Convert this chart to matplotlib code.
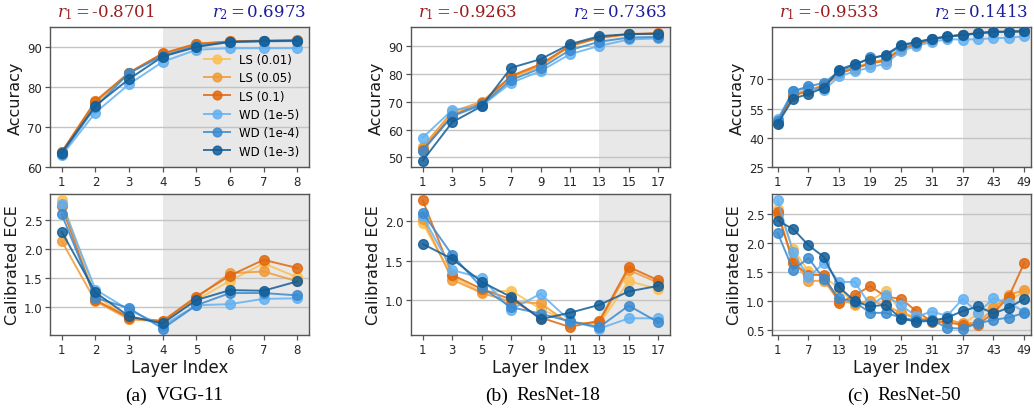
import matplotlib
matplotlib.use("Agg")
import matplotlib.pyplot as plt
from matplotlib.transforms import offset_copy

# ---------------- data ----------------
series_names = ["LS (0.01)", "LS (0.05)", "LS (0.1)", "WD (1e-5)", "WD (1e-4)", "WD (1e-3)"]
series_colors = ["#fdbf4f", "#f19a36", "#e0680f", "#62b1f3", "#3a8ad0", "#135e98"]

# (a) VGG-11
layers_a = [1, 2, 3, 4, 5, 6, 7, 8]
acc_a_ls001 = [63.6, 76.0, 83.4, 88.2, 90.7, 91.3, 91.5, 91.6]
acc_a_ls005 = [63.7, 76.2, 83.5, 88.3, 90.8, 91.4, 91.5, 91.6]
acc_a_ls01 = [63.8, 76.5, 83.6, 88.4, 90.8, 91.4, 91.6, 91.7]
acc_a_wd1e5 = [62.9, 73.6, 80.7, 86.3, 89.3, 89.7, 89.7, 89.7]
acc_a_wd1e4 = [63.3, 75.0, 83.5, 87.8, 90.3, 91.2, 91.4, 91.5]
acc_a_wd1e3 = [63.6, 75.3, 82.0, 87.6, 90.0, 91.3, 91.5, 91.6]
ece_a_ls001 = [2.83, 1.20, 0.80, 0.76, 1.12, 1.45, 1.75, 1.51]
ece_a_ls005 = [2.13, 1.10, 0.79, 0.75, 1.16, 1.58, 1.61, 1.44]
ece_a_ls01 = [2.73, 1.12, 0.82, 0.76, 1.18, 1.54, 1.81, 1.67]
ece_a_wd1e5 = [2.77, 1.30, 0.95, 0.68, 1.03, 1.05, 1.14, 1.15]
ece_a_wd1e4 = [2.59, 1.16, 0.98, 0.63, 1.03, 1.24, 1.24, 1.20]
ece_a_wd1e3 = [2.29, 1.25, 0.84, 0.72, 1.12, 1.29, 1.28, 1.44]

# (b) ResNet-18
layers_b = [1, 3, 5, 7, 9, 11, 13, 15, 17]
acc_b_ls001 = [53.5, 66.0, 69.2, 78.5, 82.7, 90.0, 93.0, 94.3, 94.5]
acc_b_ls005 = [53.8, 66.4, 70.0, 79.0, 83.0, 90.0, 93.0, 94.3, 94.5]
acc_b_ls01 = [52.8, 65.0, 69.5, 79.3, 83.5, 90.2, 93.1, 94.4, 94.6]
acc_b_wd1e5 = [57.1, 67.0, 68.5, 76.8, 81.0, 87.1, 90.1, 92.4, 92.8]
acc_b_wd1e4 = [52.4, 64.8, 68.8, 77.8, 82.0, 88.6, 91.6, 93.1, 93.3]
acc_b_wd1e3 = [48.8, 62.6, 68.4, 82.2, 85.3, 90.7, 93.6, 94.3, 94.5]
ece_b_ls001 = [1.97, 1.30, 1.10, 1.12, 0.89, 0.72, 0.70, 1.24, 1.14]
ece_b_ls005 = [2.03, 1.26, 1.09, 0.98, 0.96, 0.70, 0.72, 1.38, 1.22]
ece_b_ls01 = [2.26, 1.32, 1.14, 1.01, 0.78, 0.66, 0.74, 1.42, 1.25]
ece_b_wd1e5 = [2.06, 1.38, 1.28, 0.88, 1.08, 0.74, 0.64, 0.77, 0.77]
ece_b_wd1e4 = [2.10, 1.57, 1.16, 0.91, 0.83, 0.73, 0.66, 0.93, 0.72]
ece_b_wd1e3 = [1.71, 1.52, 1.23, 1.04, 0.76, 0.84, 0.94, 1.11, 1.18]

# (c) ResNet-50
layers_c = [1, 4, 7, 10, 13, 16, 19, 22, 25, 28, 31, 34, 37, 40, 43, 46, 49]
acc_c_ls001 = [48.0, 62.2, 64.7, 67.0, 73.7, 76.1, 78.7, 80.4, 86.0, 88.2, 90.5, 91.8, 92.6, 93.5, 94.2, 94.3, 94.6]
acc_c_ls005 = [48.2, 62.0, 64.5, 66.8, 73.3, 75.8, 78.3, 80.0, 85.7, 88.0, 90.4, 91.8, 92.7, 93.5, 94.2, 94.3, 94.6]
acc_c_ls01 = [47.8, 61.5, 64.0, 66.3, 73.0, 75.5, 78.0, 79.5, 85.4, 87.9, 90.3, 91.8, 92.8, 93.6, 94.3, 94.4, 94.7]
acc_c_wd1e5 = [49.4, 63.9, 65.5, 64.5, 71.5, 74.0, 76.1, 78.0, 84.3, 87.2, 89.1, 90.6, 90.3, 90.6, 91.0, 91.3, 92.0]
acc_c_wd1e4 = [48.5, 63.9, 66.4, 68.1, 74.2, 77.2, 81.2, 82.0, 87.2, 88.8, 90.6, 91.9, 92.6, 93.5, 94.2, 94.3, 94.6]
acc_c_wd1e3 = [47.2, 60.0, 62.5, 65.6, 75.0, 77.8, 80.4, 82.6, 87.6, 89.1, 90.8, 92.0, 92.8, 93.7, 94.4, 94.4, 94.7]
ece_c_ls001 = [2.59, 1.90, 1.51, 1.42, 1.22, 0.94, 1.00, 1.18, 0.82, 0.72, 0.68, 0.70, 0.60, 0.79, 0.91, 1.02, 1.16]
ece_c_ls005 = [2.50, 1.70, 1.35, 1.35, 1.00, 0.96, 1.01, 0.93, 0.80, 0.70, 0.68, 0.68, 0.62, 0.63, 0.88, 1.11, 1.19]
ece_c_ls01 = [2.53, 1.66, 1.45, 1.45, 0.97, 1.10, 1.26, 1.08, 1.04, 0.83, 0.65, 0.64, 0.59, 0.60, 0.80, 1.08, 1.66]
ece_c_wd1e5 = [2.73, 1.84, 1.41, 1.66, 1.33, 1.33, 0.93, 1.10, 0.93, 0.74, 0.82, 0.75, 1.04, 0.80, 1.05, 0.97, 0.82]
ece_c_wd1e4 = [2.17, 1.54, 1.74, 1.38, 1.05, 0.99, 0.80, 0.80, 0.72, 0.67, 0.68, 0.54, 0.53, 0.62, 0.68, 0.72, 0.80]
ece_c_wd1e3 = [2.38, 2.24, 1.96, 1.76, 1.24, 1.00, 0.91, 0.94, 0.70, 0.65, 0.66, 0.72, 0.83, 0.91, 0.79, 0.89, 1.04]

r1_values = ["-0.8701", "-0.9263", "-0.9533"]
r2_values = ["0.6973", "0.7363", "0.1413"]
captions = [("(a)", "VGG-11"), ("(b)", "ResNet-18"), ("(c)", "ResNet-50")]
shade_start = [4, 13, 37]
xticks_list = [[1, 2, 3, 4, 5, 6, 7, 8], [1, 3, 5, 7, 9, 11, 13, 15, 17], [1, 7, 13, 19, 25, 31, 37, 43, 49]]
acc_yticks = [[60, 70, 80, 90], [50, 60, 70, 80, 90], [25, 40, 55, 70]]
ece_yticks = [[1.0, 1.5, 2.0, 2.5], [1.0, 1.5, 2.0], [0.5, 1.0, 1.5, 2.0, 2.5]]

panels = [
    (layers_a,
     [acc_a_ls001, acc_a_ls005, acc_a_ls01, acc_a_wd1e5, acc_a_wd1e4, acc_a_wd1e3],
     [ece_a_ls001, ece_a_ls005, ece_a_ls01, ece_a_wd1e5, ece_a_wd1e4, ece_a_wd1e3]),
    (layers_b,
     [acc_b_ls001, acc_b_ls005, acc_b_ls01, acc_b_wd1e5, acc_b_wd1e4, acc_b_wd1e3],
     [ece_b_ls001, ece_b_ls005, ece_b_ls01, ece_b_wd1e5, ece_b_wd1e4, ece_b_wd1e3]),
    (layers_c,
     [acc_c_ls001, acc_c_ls005, acc_c_ls01, acc_c_wd1e5, acc_c_wd1e4, acc_c_wd1e3],
     [ece_c_ls001, ece_c_ls005, ece_c_ls01, ece_c_wd1e5, ece_c_wd1e4, ece_c_wd1e3]),
]

# ---------------- style ----------------
plt.rcParams["font.family"] = ["DejaVu Sans"]
plt.rcParams["mathtext.fontset"] = "dejavuserif"

W, H = 1034, 414
fig = plt.figure(figsize=(W / 100, H / 100), dpi=100)

lefts_px = [50, 411, 772]
width_px = 259
lefts = [p / W for p in lefts_px]
width = width_px / W
top_bottom = 1 - 168 / H
top_height = 140 / H
bot_bottom = 1 - 336 / H
bot_height = 141 / H

spine_color = "#555555"
tick_color = "#262626"


def style_axes(ax, xticks, yticks, shade_x, xlim):
    ax.axvspan(shade_x, xlim[1] + 10, color="#e8e8e8", zorder=0, lw=0)
    ax.set_xlim(*xlim)
    ax.set_xticks(xticks)
    ax.set_yticks(yticks)
    ax.yaxis.grid(True, color="#c4c4c4", lw=1.0, zorder=1)
    ax.set_axisbelow(True)
    for s in ax.spines.values():
        s.set_color(spine_color)
        s.set_linewidth(1.0)
    ax.tick_params(axis="both", labelsize=8.5, colors=tick_color, length=3.5,
                   width=0.9, direction="out", pad=2)
    ax.tick_params(axis="both", color=spine_color)


for i, (layers, accs, eces) in enumerate(panels):
    span = layers[-1] - layers[0]
    if i == 2:
        xlim = (-0.1, 50.3)
    else:
        xlim = (layers[0] - 0.05 * span, layers[-1] + 0.05 * span)

    ax_t = fig.add_axes([lefts[i], top_bottom, width, top_height])
    ax_b = fig.add_axes([lefts[i], bot_bottom, width, bot_height])

    for vals, name, col in zip(accs, series_names, series_colors):
        ax_t.plot(layers, vals, "-o", color=col, lw=1.4, ms=7, alpha=0.85,
                  label=name, zorder=3)
    for vals, name, col in zip(eces, series_names, series_colors):
        ax_b.plot(layers, vals, "-o", color=col, lw=1.4, ms=7, alpha=0.85,
                  label=name, zorder=3)

    style_axes(ax_t, xticks_list[i], acc_yticks[i], shade_start[i], xlim)
    style_axes(ax_b, xticks_list[i], ece_yticks[i], shade_start[i], xlim)

    if i == 0:
        ax_t.set_ylim(60, 95)
    elif i == 2:
        ax_t.set_ylim(25, 96.8)

    ax_t.set_ylabel("Accuracy", fontsize=11.5, color="#1a1a1a", labelpad=3)
    ax_b.set_ylabel("Calibrated ECE", fontsize=11.5, color="#1a1a1a", labelpad=3)
    ax_b.set_xlabel("Layer Index", fontsize=12, color="#1a1a1a", labelpad=2)

    title_tr = offset_copy(ax_t.transAxes, fig=fig, x=0, y=7.5, units="points")
    ax_t.text(0.027, 1.0, r"$r_1\,$=$\,$" + r1_values[i], transform=title_tr,
              ha="left", va="baseline", fontsize=12, color="#9a1c1c",
              family="DejaVu Serif")
    ax_t.text(0.99, 1.0, r"$r_2\,$=$\,$" + r2_values[i], transform=title_tr,
              ha="right", va="baseline", fontsize=12, color="#1c1c9a",
              family="DejaVu Serif")

    split_px = lefts_px[i] + width_px / 2 - 29
    fig.text((split_px - 4) / W, 1 - 396 / H, captions[i][0], ha="right", va="center",
             fontsize=14, family="Liberation Serif", color="black")
    fig.text((split_px + 5) / W, 1 - 396 / H, captions[i][1], ha="left", va="center",
             fontsize=14, family="Liberation Serif", color="black")

    if i == 0:
        ax_t.legend(loc="lower right", frameon=False, fontsize=8.5,
                    handlelength=2.2, labelspacing=0.45, borderaxespad=0.4,
                    handletextpad=0.8, markerscale=0.9)

fig.savefig("out.png", dpi=100)
